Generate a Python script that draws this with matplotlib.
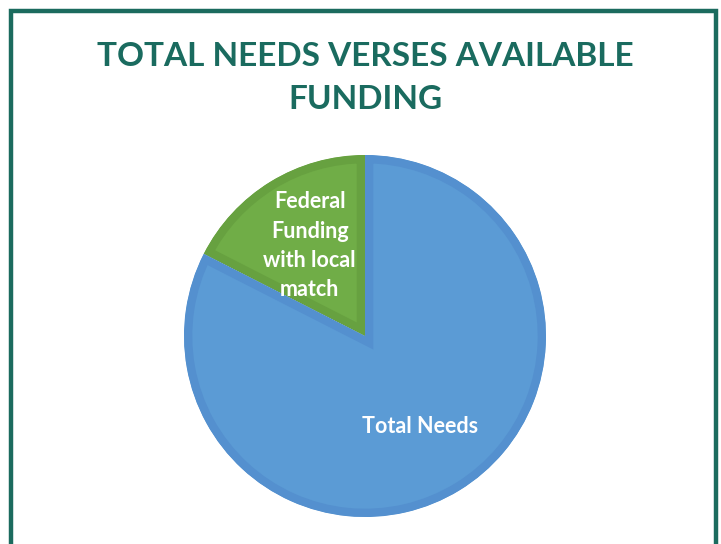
import matplotlib.pyplot as plt
from matplotlib.patches import Rectangle

# data
labels = ["Federal\nFunding\nwith local\nmatch", "Total Needs"]
values = [17.5, 82.5]
colors = ["#70ad47", "#5b9bd5"]
edge_colors = ["#67a140", "#5490cf"]
title = "TOTAL NEEDS VERSES AVAILABLE\nFUNDING"

W, H = 721, 544
fig = plt.figure(figsize=(W / 100, H / 100), dpi=100)
fig.patch.set_facecolor("white")

# slide frame
frame = Rectangle((11 / W, -0.02), 705 / W, 1 - 11 / H + 0.02, transform=fig.transFigure,
                  fill=False, edgecolor="#1b6b5e", linewidth=3.2)
fig.patches.append(frame)

fig.text(365 / W, 1 - 78 / H, title, ha="center", va="center", color="#1a6b5f",
         fontsize=24, fontweight="bold", family="Lato", linespacing=1.56)

# pie: center (365, 336) px, radius 181 px
cx, cy, r = 365, 336, 181
ax = fig.add_axes([(cx - r) / W, 1 - (cy + r) / H, 2 * r / W, 2 * r / H])
wedges, texts = ax.pie(values, labels=labels, colors=colors, startangle=90,
                       counterclock=True, radius=1, labeldistance=0.585,
                       textprops=dict(color="white", fontsize=15.5, fontweight="bold",
                                      family="Lato"))
# inner bevel: stroke clipped to the wedge itself so only the inside half shows
for w, ec in zip(wedges, edge_colors):
    w.set_edgecolor(ec)
    w.set_linewidth(12)
    w.set_clip_on(True)
    w.set_clip_path(w)
for t in texts:
    t.set_ha("center")
    t.set_va("center")
    t.set_linespacing(1.48)
ax.set_xlim(-1, 1)
ax.set_ylim(-1, 1)
ax.set_aspect("equal")
ax.axis("off")

fig.savefig("out.png", dpi=100, facecolor="white")
